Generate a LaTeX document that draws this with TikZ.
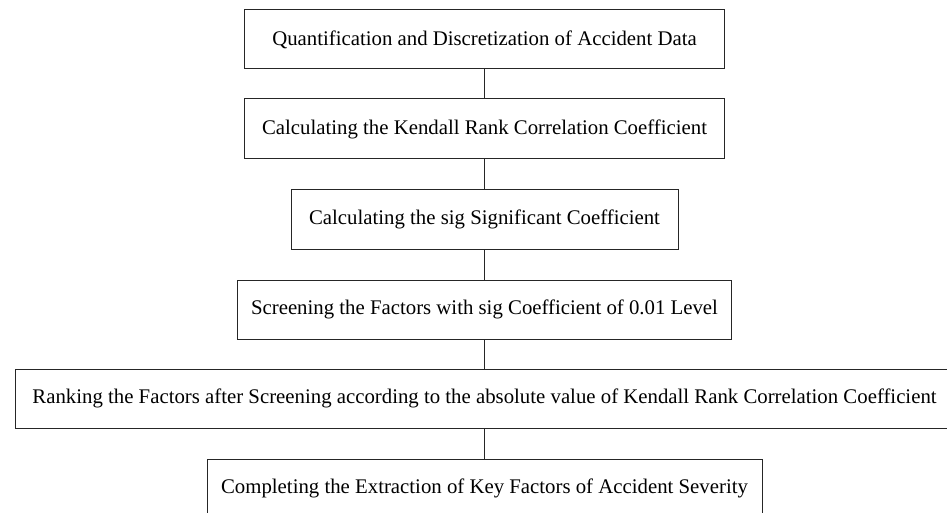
\documentclass[tikz,border=0pt]{standalone}
\usepackage{fontspec}
\setmainfont{Liberation Serif}
\begin{document}
\begin{tikzpicture}[x=1pt,y=-1pt,
  stepbox/.style={draw=black!85, line width=1pt, inner sep=0pt, align=center,
    font=\fontsize{20.8}{24}\selectfont},
  link/.style={draw=black!85, line width=1pt}]
\useasboundingbox (0,0) rectangle (947,513);
\clip (0,0) rectangle (947,513);
\node[stepbox, minimum width=479.5pt, minimum height=59pt] (b1) at (484.5,39.5) {Quantification and Discretization of Accident Data};
\node[stepbox, minimum width=479.5pt, minimum height=60pt] (b2) at (484.5,129) {Calculating the Kendall Rank Correlation Coefficient};
\node[stepbox, minimum width=387pt, minimum height=59pt] (b3) at (484.5,219.5) {Calculating the sig Significant Coefficient};
\node[stepbox, minimum width=494pt, minimum height=59pt] (b4) at (484.5,309.5) {Screening the Factors with sig Coefficient of 0.01 Level};
\node[stepbox, minimum width=939pt, minimum height=59pt] (b5) at (484.5,398.5) {Ranking the Factors after Screening according to the absolute value of Kendall Rank Correlation Coefficient};
\node[stepbox, minimum width=555pt, minimum height=59pt] (b6) at (484.5,488.5) {Completing the Extraction of Key Factors of Accident Severity};
\draw[link] (b1.south) -- (b2.north);
\draw[link] (b2.south) -- (b3.north);
\draw[link] (b3.south) -- (b4.north);
\draw[link] (b4.south) -- (b5.north);
\draw[link] (b5.south) -- (b6.north);
\end{tikzpicture}
\end{document}
